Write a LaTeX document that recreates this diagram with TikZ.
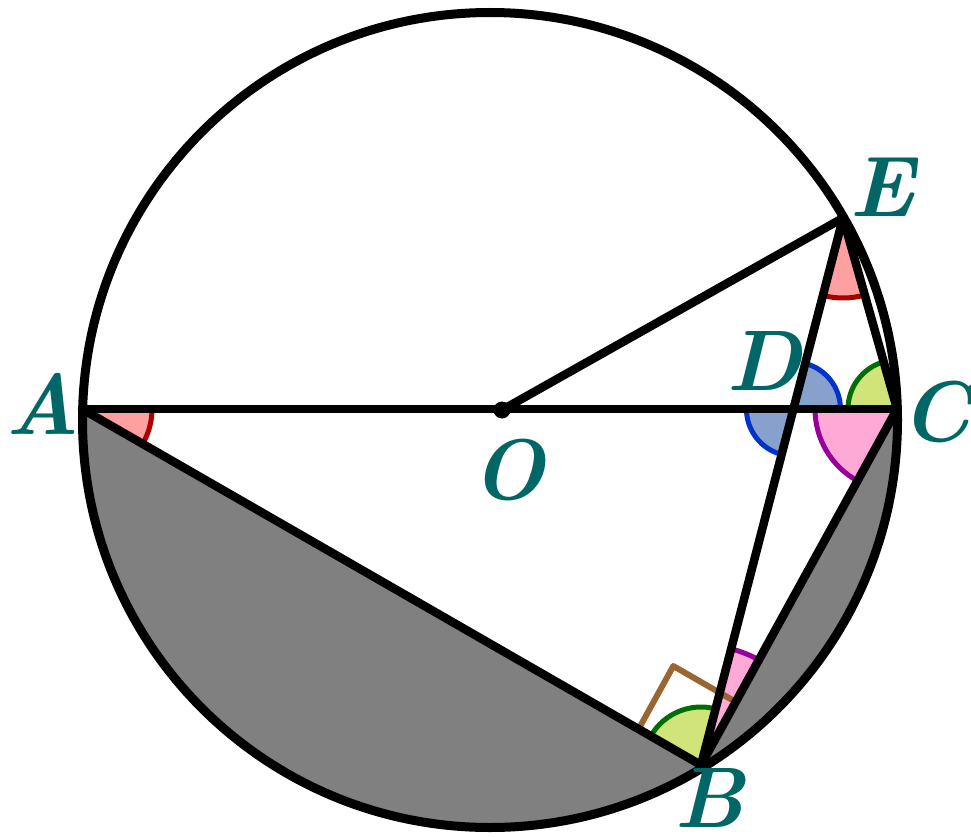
\documentclass[tikz,border=0pt]{standalone}
\usetikzlibrary{angles}
\definecolor{labteal}{RGB}{0,102,102}
\definecolor{redline}{RGB}{170,0,0}
\definecolor{redfill}{RGB}{255,160,160}
\definecolor{blueline}{RGB}{0,51,204}
\definecolor{bluefill}{RGB}{135,160,204}
\definecolor{greenline}{RGB}{0,110,0}
\definecolor{greenfill}{RGB}{208,228,122}
\definecolor{pinkline}{RGB}{153,0,153}
\definecolor{pinkfill}{RGB}{255,170,214}
\definecolor{rightbrown}{RGB}{153,102,51}
\begin{document}
\begin{tikzpicture}[x=1pt,y=-1pt,line join=round,line cap=round,
  lab/.style={text=labteal,inner sep=0pt,font=\fontsize{86}{86}\selectfont\bfseries\itshape},
  chord/.style={line width=8.5pt},
  redang/.style={draw=redline,fill=redfill,line width=5pt},
  blueang/.style={draw=blueline,fill=bluefill,line width=5pt},
  greenang/.style={draw=greenline,fill=greenfill,line width=5pt},
  pinkang/.style={draw=pinkline,fill=pinkfill,line width=5pt}]
  \useasboundingbox (0,0) rectangle (971,837);

  % points
  \coordinate (ctr) at (490,420);
  \coordinate (O) at (502,410);
  \coordinate (A) at (82,409);
  \coordinate (C) at (897,409);
  \coordinate (E) at (843,218);
  \coordinate (B) at (701,765);
  \coordinate (D) at (intersection of A--C and E--B);

  % shaded segments
  \begin{scope}
    \clip (ctr) circle[radius=407.5pt];
    \fill[gray] (A) -- (B) -- (701,900) -- (0,900) -- (0,409) -- cycle;
    \fill[gray] (B) -- (C) -- (971,409) -- (971,900) -- (701,900) -- cycle;
  \end{scope}

  % angle marks
  \pic[redang,angle radius=70pt] {angle=B--A--C};
  \pic[redang,angle radius=80pt] {angle=B--E--C};
  \pic[blueang,angle radius=47pt] {angle=C--D--E};
  \pic[blueang,angle radius=47pt] {angle=A--D--B};
  \pic[greenang,angle radius=49pt] {angle=E--C--A};
  \pic[pinkang,angle radius=82pt] {angle=A--C--B};
  \pic[greenang,angle radius=58pt] {angle=E--B--A};
  \pic[pinkang,angle radius=120pt] {angle=C--B--E};
  \pic[draw=rightbrown,line width=6pt,line cap=butt,angle radius=72pt] {right angle=C--B--A};

  % circle and chords
  \draw[line width=9pt] (ctr) circle[radius=407.5pt];
  \draw[chord] (A) -- (C);
  \draw[chord] (O) -- (E);
  \draw[chord] (E) -- (B);
  \draw[chord] (E) -- (C);
  \draw[chord] (A) -- (B) -- (C);
  \fill (O) circle[radius=8.5pt];

  % labels
  \foreach \n/\x/\y in {A/43/404,O/508/470,E/882/187,D/764/361,C/936/412,B/710/798}
    \node[lab] (l\n) at (\x,\y) {\n};
\end{tikzpicture}
\end{document}
